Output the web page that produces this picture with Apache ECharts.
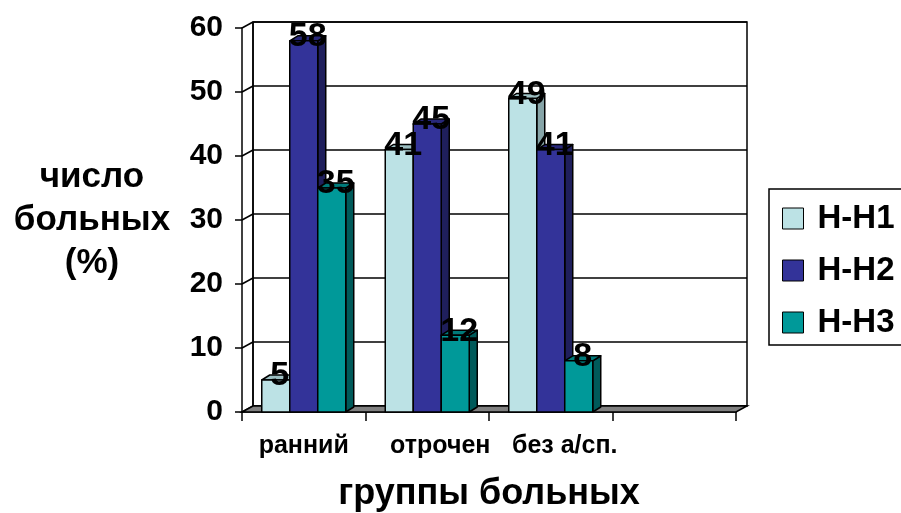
<!DOCTYPE html>
<html>
<head>
<meta charset="utf-8">
<script src="https://cdn.jsdelivr.net/npm/echarts@6/dist/echarts.min.js"></script>
<style>
  html, body { margin: 0; padding: 0; background: #fff; }
  #chart { width: 901px; height: 513px; }
</style>
</head>
<body>
<div id="chart"></div>
<script>
// Patient groups and share of patients (%) for each marker
const categories = ['ранний', 'отрочен', 'без а/сп.', ''];
const seriesNames = ['Н-Н1', 'Н-Н2', 'Н-Н3'];
const valuesH1 = [5, 41, 49, null];
const valuesH2 = [58, 45, 41, null];
const valuesH3 = [35, 12, 8, null];
const yTicks = [0, 10, 20, 30, 40, 50, 60];

const FONT = '"Liberation Sans", Arial, sans-serif';

// face colours: front, side, top
const palette = [
  { front: '#BCE2E5', side: '#86A4A7', top: '#9DBFC2' },
  { front: '#333399', side: '#1F1F5C', top: '#28287A' },
  { front: '#009999', side: '#005A5A', top: '#007A7A' }
];

// depth offsets of the 3D box look
const WALL_DX = 11, WALL_DY = -6;
const BAR_DX = 8, BAR_DY = -5;
const BAR_RATIO = 0.2267;

function toData(arr) {
  const out = [];
  arr.forEach((v, i) => { if (v != null) out.push([i, v]); });
  return out;
}

function wallsRenderItem(params, api) {
  const cs = params.coordSys;
  const left = cs.x, right = cs.x + cs.width;
  const children = [];
  const y0 = api.coord([0, 0])[1];
  const yTop = api.coord([0, yTicks[yTicks.length - 1]])[1];
  // back wall
  children.push({
    type: 'polygon',
    shape: { points: [
      [left + WALL_DX, yTop + WALL_DY], [right + WALL_DX, yTop + WALL_DY],
      [right + WALL_DX, y0 + WALL_DY], [left + WALL_DX, y0 + WALL_DY]
    ] },
    style: { fill: '#fff', stroke: '#000', lineWidth: 1.5 }
  });
  // gridlines on back wall and side wall
  yTicks.forEach(t => {
    const y = api.coord([0, t])[1];
    children.push({
      type: 'line',
      shape: { x1: left + WALL_DX, y1: y + WALL_DY, x2: right + WALL_DX, y2: y + WALL_DY },
      style: { stroke: '#000', lineWidth: 1.5 }
    });
    children.push({
      type: 'line',
      shape: { x1: left, y1: y, x2: left + WALL_DX, y2: y + WALL_DY },
      style: { stroke: '#000', lineWidth: 1.5 }
    });
  });
  children.push({
    type: 'line',
    shape: { x1: left + WALL_DX, y1: yTop + WALL_DY, x2: left + WALL_DX, y2: y0 + WALL_DY },
    style: { stroke: '#000', lineWidth: 1.5 }
  });
  // floor
  children.push({
    type: 'polygon',
    shape: { points: [
      [left, y0], [right, y0], [right + WALL_DX, y0 + WALL_DY], [left + WALL_DX, y0 + WALL_DY]
    ] },
    style: { fill: '#808080', stroke: '#000', lineWidth: 1.5 }
  });
  return { type: 'group', children };
}

function makeBarRenderer(si) {
  const col = palette[si];
  return function (params, api) {
    const cat = api.value(0), v = api.value(1);
    const base = api.coord([cat, 0]);
    const top = api.coord([cat, v]);
    const bandW = api.size([1, 0])[0];
    const bw = bandW * BAR_RATIO;
    const cx = base[0] + (si - 1) * bw;
    const x0 = cx - bw / 2, x1 = cx + bw / 2;
    const yb = base[1], yt = top[1];
    const st = { stroke: '#000', lineWidth: 1.5, lineJoin: 'round' };
    return {
      type: 'group',
      children: [
        { type: 'polygon', shape: { points: [[x1, yb], [x1 + BAR_DX, yb + BAR_DY], [x1 + BAR_DX, yt + BAR_DY], [x1, yt]] },
          style: Object.assign({ fill: col.side }, st) },
        { type: 'polygon', shape: { points: [[x0, yt], [x0 + BAR_DX, yt + BAR_DY], [x1 + BAR_DX, yt + BAR_DY], [x1, yt]] },
          style: Object.assign({ fill: col.top }, st) },
        { type: 'rect', shape: { x: x0, y: yt, width: bw, height: yb - yt },
          style: Object.assign({ fill: col.front }, st) },
        { type: 'text', z2: 100,
          style: { text: String(v), x: cx + BAR_DX / 2, y: yt - 4, align: 'center', verticalAlign: 'middle',
                   fill: '#000', fontFamily: FONT, fontWeight: 'bold', fontSize: 34 } }
      ]
    };
  };
}

const seriesData = [valuesH1, valuesH2, valuesH3];

// horizontal nudges for the category captions
const labelShift = { 'отрочен': 'b', 'без а/сп.': 'c' };

const option = {
  backgroundColor: '#fff',
  animation: false,
  grid: { left: 242, right: 165, top: 28, bottom: 101, containLabel: false, outerBoundsMode: 'none' },
  graphic: [
    // legend frame, running past the right edge of the page
    { type: 'rect', z: 0, silent: true, shape: { x: 769, y: 189, width: 160, height: 156 },
      style: { fill: '#fff', stroke: '#000', lineWidth: 1.5 } }
  ],
  legend: {
    orient: 'vertical',
    left: 769, top: 189,
    data: seriesNames,
    icon: 'rect',
    itemWidth: 21, itemHeight: 21, itemGap: 19,
    padding: [13, 0, 6, 13],
    itemStyle: { borderColor: '#000', borderWidth: 1 },
    textStyle: { fontFamily: FONT, fontWeight: 'bold', fontSize: 33, lineHeight: 33, color: '#000', padding: [0, 0, 0, 9] }
  },
  xAxis: {
    type: 'category',
    data: categories,
    boundaryGap: true,
    name: 'группы больных',
    nameLocation: 'middle',
    nameGap: 82,
    nameTextStyle: { fontFamily: FONT, fontWeight: 'bold', fontSize: 36, color: '#000', verticalAlign: 'middle' },
    axisLine: { show: true, lineStyle: { color: '#000', width: 1.5 } },
    axisTick: { show: true, interval: 0, length: 9, lineStyle: { color: '#000', width: 1.5 } },
    axisLabel: {
      interval: 0, margin: 22, fontFamily: FONT, fontWeight: 'bold', fontSize: 25, color: '#000',
      formatter: v => labelShift[v] ? '{' + labelShift[v] + '|' + v + '}' : v,
      rich: {
        b: { fontFamily: FONT, fontWeight: 'bold', fontSize: 25, color: '#000', padding: [0, 0, 0, 26] },
        c: { fontFamily: FONT, fontWeight: 'bold', fontSize: 25, color: '#000', padding: [0, 0, 0, 28] }
      }
    },
    splitLine: { show: false }
  },
  yAxis: {
    type: 'value',
    min: 0, max: 60, interval: 10,
    name: 'число\nбольных\n(%)',
    nameLocation: 'middle',
    nameRotate: 0,
    nameGap: 150,
    nameTextStyle: { fontFamily: FONT, fontWeight: 'bold', fontSize: 35, lineHeight: 43, color: '#000', align: 'center', verticalAlign: 'middle' },
    axisLine: { show: true, lineStyle: { color: '#000', width: 1.5 } },
    axisTick: { show: true, length: 7, lineStyle: { color: '#000', width: 1.5 } },
    axisLabel: { margin: 19, fontFamily: FONT, fontWeight: 'bold', fontSize: 30, color: '#000' },
    splitLine: { show: false }
  },
  series: [
    { type: 'custom', name: '__walls', z: 1, silent: true, renderItem: wallsRenderItem, data: [[0, 0]], encode: { x: 0, y: 1 } }
  ].concat(seriesData.map((arr, si) => ({
    type: 'custom',
    name: seriesNames[si],
    z: 2,
    itemStyle: { color: palette[si].front, borderColor: '#000', borderWidth: 1 },
    renderItem: makeBarRenderer(si),
    data: toData(arr),
    encode: { x: 0, y: 1 }
  })))
};

const chart = echarts.init(document.getElementById('chart'), null, { renderer: 'canvas' });
chart.setOption(option);
</script>
</body>
</html>
